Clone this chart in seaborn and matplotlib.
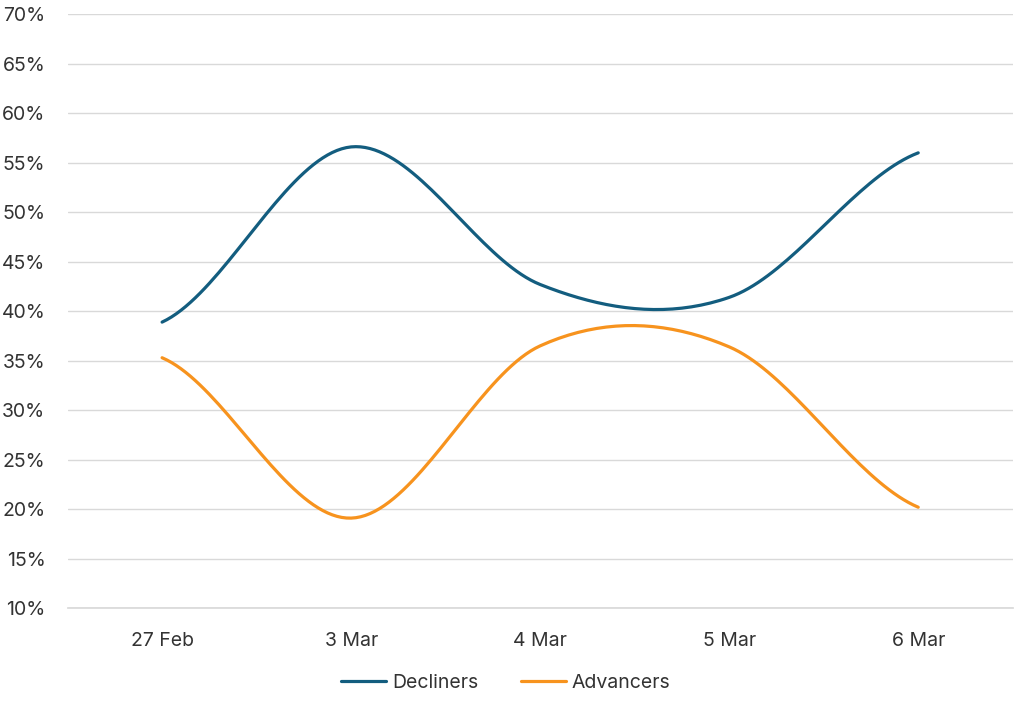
import numpy as np
import pandas as pd
import matplotlib.pyplot as plt
import seaborn as sns

dates = ['27 Feb', '3 Mar', '4 Mar', '5 Mar', '6 Mar']
decliners = [38.9, 56.6, 42.7, 41.4, 56.0]
advancers = [35.3, 19.1, 36.5, 36.4, 20.2]

# Excel style smoothed line: catmull-rom bezier between the points
def smooth(vals, n=40):
    p = [vals[0]] + list(vals) + [vals[-1]]
    xs, ys = [], []
    for i in range(len(vals) - 1):
        p0, p1, p2, p3 = p[i], p[i + 1], p[i + 2], p[i + 3]
        c1 = p1 + (p2 - p0) / 6
        c2 = p2 - (p3 - p1) / 6
        t = np.linspace(0, 1, n, endpoint=(i == len(vals) - 2))
        y = (1 - t)**3 * p1 + 3 * (1 - t)**2 * t * c1 + 3 * (1 - t) * t**2 * c2 + t**3 * p2
        xs.extend(i + t)
        ys.extend(y)
    return xs, ys

rows = []
for name, vals in [('Decliners', decliners), ('Advancers', advancers)]:
    xs, ys = smooth(vals)
    rows += [{'x': a, 'pct': b, 'series': name} for a, b in zip(xs, ys)]
df = pd.DataFrame(rows)

sns.set_theme(style='white')
plt.rcParams['font.family'] = ['Inter', 'DejaVu Sans']

fig = plt.figure(figsize=(10.24, 7.13), dpi=100)
ax = fig.add_axes([0.066, 0.147, 0.923, 0.833])

sns.lineplot(data=df, x='x', y='pct', hue='series', estimator=None, sort=False,
             palette={'Decliners': '#135d7f', 'Advancers': '#f7931e'},
             linewidth=2.3, ax=ax)

ax.set_xlim(-0.5, 4.5)
ax.set_ylim(10, 70)
ax.set_yticks(range(10, 71, 5))
ax.set_yticklabels([f'{v}%' for v in range(10, 71, 5)], fontsize=14, color='#333333')
ax.set_xticks(range(len(dates)))
ax.set_xticklabels(dates, fontsize=14, color='#333333')
ax.set_xticks(np.arange(-0.5, 4.6, 1), minor=True)
ax.tick_params(axis='x', which='major', length=0, pad=17)
ax.tick_params(axis='x', which='minor', length=6, width=1, color='#d9d9d9', direction='out')
ax.tick_params(axis='y', length=0, pad=16)
ax.grid(axis='y', color='#d9d9d9', linewidth=1)
ax.set_axisbelow(True)
for s in ['top', 'right', 'left']:
    ax.spines[s].set_visible(False)
ax.spines['bottom'].set_color('#d9d9d9')
ax.set_xlabel('')
ax.set_ylabel('')

handles, labels = ax.get_legend_handles_labels()
ax.get_legend().remove()
fig.legend(handles, labels, loc='center', bbox_to_anchor=(0.494, 0.042), ncol=2,
           frameon=False, fontsize=14, handlelength=2.3, handletextpad=0.3,
           columnspacing=2.2, labelcolor='#333333')

fig.savefig('out.png', dpi=100)
